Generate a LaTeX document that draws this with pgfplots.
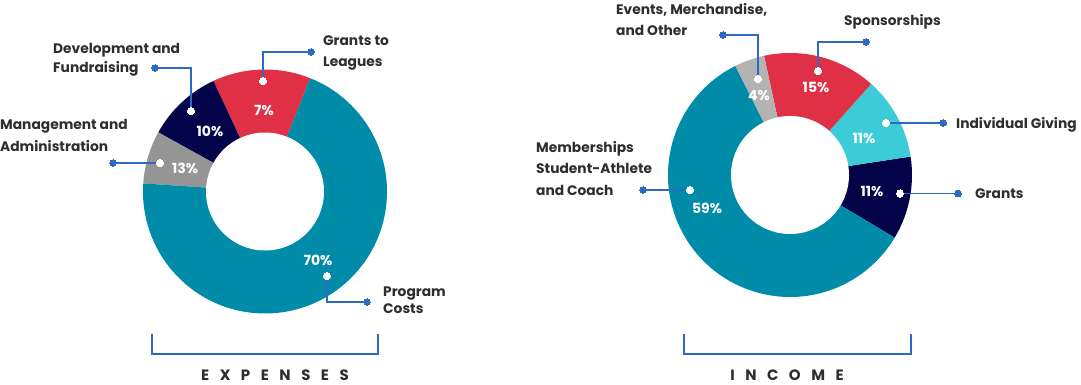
\documentclass[border=0pt]{standalone}
\usepackage{pgfplots}
\pgfplotsset{compat=1.18}
\usepackage{fontspec}
\setmainfont{Poppins}
\definecolor{cteal}{HTML}{008CA9}
\definecolor{cred}{HTML}{DF3045}
\definecolor{cnavy}{HTML}{03034A}
\definecolor{cgrayA}{HTML}{959595}
\definecolor{cgrayB}{HTML}{B3B3B3}
\definecolor{ccyan}{HTML}{3CCBD7}
\definecolor{cblue}{HTML}{2D6BC3}
\definecolor{ctext}{HTML}{2E2E2E}
% donut: center x, center y (pixels), start angle, list of share/colour
\newcommand{\donut}[4]{%
  \pgfmathsetmacro\curang{#3}%
  \foreach \v/\c in {#4} {%
    \pgfmathsetmacro\nextang{\curang+3.6*\v}%
    \edef\tmp{\noexpand\fill[\c] (axis cs:#1,#2) -- ++(\curang:122bp) arc[start angle=\curang, end angle=\nextang, radius=122bp] -- cycle;}%
    \tmp
    \global\let\curang\nextang
  }%
  \fill[white] (axis cs:#1,#2) circle[radius=59bp];%
}
\tikzset{
  lbl/.style={anchor=base west, inner sep=0pt, text=ctext, font=\fontsize{13.8bp}{17bp}\selectfont\bfseries},
  pct/.style={anchor=center, inner sep=0pt, text=white, font=\fontsize{14bp}{17bp}\selectfont\bfseries},
  ttl/.style={anchor=center, inner sep=0pt, text=ctext, font=\fontsize{15bp}{18bp}\selectfont\bfseries},
}
\begin{document}
\begin{tikzpicture}
\begin{axis}[
  width=1081bp, height=385bp, scale only axis,
  xmin=0, xmax=1081, ymin=0, ymax=385, y dir=reverse,
  hide axis, clip=false,
  leader/.style={cblue, line width=1.5bp, mark=none},
  bdot/.style={color=cblue, only marks, mark=*, mark size=3.4bp, mark options={fill=cblue, draw=cblue, line width=0pt}},
  wdot/.style={color=white, only marks, mark=*, mark size=3.6bp, mark options={fill=white, draw=white, line width=0pt}},
]
% EXPENSES donut (shares as drawn)
\donut{265}{191.5}{68.2}{13/cred, 10/cnavy, 7/cgrayA, 70/cteal}
% INCOME donut
\donut{790}{175}{-30.9}{11/cnavy, 11/ccyan, 15/cred, 4/cgrayB, 59/cteal}

% leader lines
\addplot[leader] coordinates {(263,81) (263,52) (311,52)};
\addplot[leader] coordinates {(191,111) (191,68) (155,68)};
\addplot[leader] coordinates {(160,163) (113,163)};
\addplot[leader] coordinates {(327,276) (327,302) (367,302)};
\addplot[leader] coordinates {(758,79) (758,35) (723,35)};
\addplot[leader] coordinates {(818,71) (818,42) (866,42)};
\addplot[leader] coordinates {(886,123) (943,123)};
\addplot[leader] coordinates {(900,193.5) (958,193.5)};
\addplot[leader] coordinates {(690,190) (643,190)};
\addplot[bdot] coordinates {(311,52) (155,68) (113,163) (367,302) (723,35) (866,42) (943,123) (958,193.5) (643,190)};
\addplot[wdot] coordinates {(263,81) (191,111) (160,163) (327,276) (758,79) (818,71) (886,123) (900,193.5) (690,190)};

% brackets
\addplot[cblue, line width=1.6bp, mark=none] coordinates {(152,334) (152,354) (378,354) (378,334)};
\addplot[cblue, line width=1.6bp, mark=none] coordinates {(684,334) (684,354) (911,354) (911,334)};

% percent labels
\node[pct] at (axis cs:264,110) {7\%};
\node[pct] at (axis cs:210,131) {10\%};
\node[pct] at (axis cs:185,168) {13\%};
\node[pct] at (axis cs:318,260) {70\%};
\node[pct] at (axis cs:759,96) {4\%};
\node[pct] at (axis cs:816,87) {15\%};
\node[pct] at (axis cs:864,138) {11\%};
\node[pct] at (axis cs:872,191) {11\%};
\node[pct] at (axis cs:707,208) {59\%};

% category labels
\node[lbl] at (axis cs:323,46) {Grants to};
\node[lbl] at (axis cs:323,67) {Leagues};
\node[lbl] at (axis cs:53,54) {Development and};
\node[lbl] at (axis cs:53,73) {Fundraising};
\node[lbl] at (axis cs:0,129) {Management and};
\node[lbl] at (axis cs:0,151) {Administration};
\node[lbl] at (axis cs:383,296) {Program};
\node[lbl] at (axis cs:383,313) {Costs};
\node[lbl] at (axis cs:616,15) {Events, Merchandise,};
\node[lbl] at (axis cs:616,36) {and Other};
\node[lbl] at (axis cs:844,26) {Sponsorships};
\node[lbl] at (axis cs:956,128) {Individual Giving};
\node[lbl] at (axis cs:975,198.5) {Grants};
\node[lbl] at (axis cs:536,152) {Memberships};
\node[lbl] at (axis cs:536,173) {Student-Athlete};
\node[lbl] at (axis cs:536,195) {and Coach};

% titles
\node[ttl] at (axis cs:275,375) {E\kern10.5bp X\kern10.5bp P\kern10.5bp E\kern10.5bp N\kern10.5bp S\kern10.5bp E\kern10.5bp S};
\node[ttl] at (axis cs:787,375) {I\kern10.5bp N\kern10.5bp C\kern10.5bp O\kern10.5bp M\kern10.5bp E};
\end{axis}
\pgfresetboundingbox
\useasboundingbox (0,0) rectangle (1081bp,385bp);
\end{tikzpicture}
\end{document}
